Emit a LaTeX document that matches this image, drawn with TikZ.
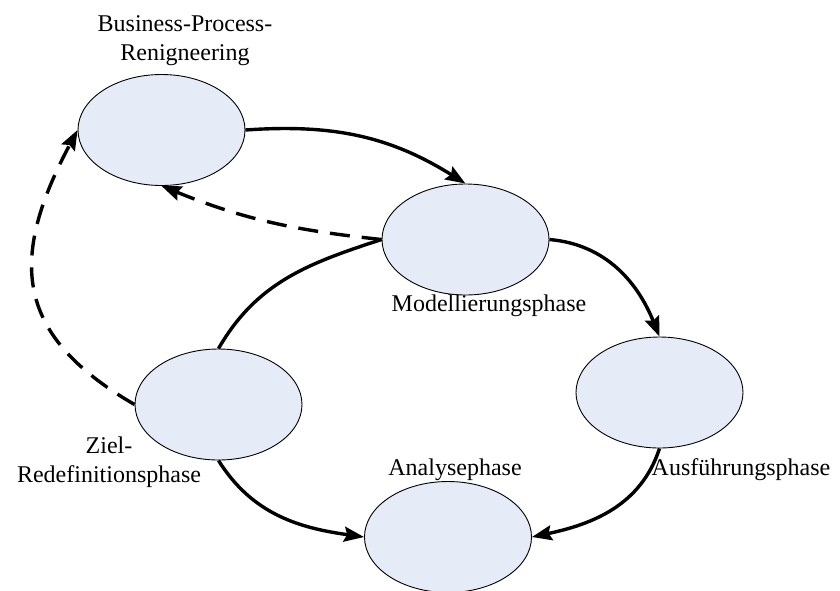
\documentclass[tikz,border=0pt]{standalone}
\usepackage{fontspec}
\setmainfont{Liberation Serif}
\usetikzlibrary{shapes.geometric,arrows.meta}
\definecolor{phasefill}{RGB}{230,236,247}
\tikzset{
  phase/.style={ellipse, draw=black, line width=0.9pt, fill=phasefill,
    minimum width=167pt, minimum height=111pt, inner sep=0pt},
  lbl/.style={font=\fontsize{24}{29}\selectfont, align=center, inner sep=0pt},
  flow/.style={line width=3.4pt, -{Stealth[length=20pt,width=15pt,inset=3pt]}},
  link/.style={line width=3.4pt},
  back/.style={flow, dash pattern=on 20pt off 12pt},
}
\begin{document}
\begin{tikzpicture}[x=1pt,y=-1pt]
\useasboundingbox (0,0) rectangle (840,590);

% phases
\node[phase] (bpr) at (161.5,130) {};
\node[phase] (mod) at (465.5,239.5) {};
\node[phase] (ziel) at (218.5,404.5) {};
\node[phase] (aus) at (659.5,392.5) {};
\node[phase] (ana) at (448,537) {};

% labels
\node[lbl] (bprl) at (185,41) {Business-Process-\\Renigneering};
\node[lbl] (modl) at (489,306) {Modellierungsphase};
\node[lbl] (ziell) at (109,462) {Ziel-\\Redefinitionsphase};
\node[lbl] (anal) at (455,470) {Analysephase};
\node[lbl] (ausl) at (741,470) {Ausführungsphase};

% main cycle
\draw[flow] (bpr.east) to[out=4, in=148] (mod.north);
\draw[flow] (mod.east) to[out=-5, in=112] (aus.north);
\draw[flow] (aus.south) to[out=252, in=12] (ana.east);
\draw[flow] (ziel.south) to[out=-58, in=172] (ana.west);
\draw[link] (ziel.north) to[out=60, in=198] (mod.west);

% feedback
\draw[back] (mod.west) to[out=174, in=-22] (bpr.south);
\draw[back] (ziel.west) to[out=150, in=242, looseness=1.3] (bpr.west);
\end{tikzpicture}
\end{document}
